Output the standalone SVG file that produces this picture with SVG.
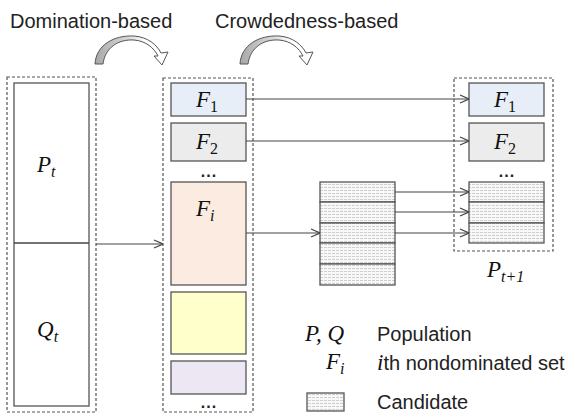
<svg xmlns="http://www.w3.org/2000/svg" width="571" height="413" viewBox="0 0 571 413">
<style>
.lbl{font-family:"Liberation Sans",Arial,sans-serif;font-size:20px;fill:#222}
.m{font-family:"Liberation Serif","Times New Roman",serif;font-style:italic;font-size:23px;fill:#111}
.sub{font-size:16px}
.up{font-style:normal}
.dash{fill:none;stroke:#555;stroke-width:1.2;stroke-dasharray:3 2}
.box{stroke:#555;stroke-width:1.3}
.hat{fill:url(#hatch);stroke:#555;stroke-width:1.3}
.con{fill:none;stroke:#444;stroke-width:1.2;marker-end:url(#arr)}
.dots{font-family:"Liberation Sans",Arial,sans-serif;font-size:16px;font-weight:bold;fill:#222;text-anchor:middle;letter-spacing:1px}
.barrow{fill:url(#bg);stroke:#555;stroke-width:1}
</style>
<defs>
<pattern id="hatch" width="4" height="3" patternUnits="userSpaceOnUse">
<rect width="4" height="3" fill="#f8f8f8"/>
<rect x="0" y="1" width="3" height="1" fill="#cfcfcf"/>
</pattern>
<marker id="arr" viewBox="0 0 10 10" refX="10" refY="5" markerWidth="10" markerHeight="10" markerUnits="userSpaceOnUse" orient="auto">
<path d="M1,1 L10,5 L1,9" fill="none" stroke="#444" stroke-width="1.2"/>
</marker>
<linearGradient id="bg" x1="0" y1="0" x2="1" y2="0">
<stop offset="0" stop-color="#a8a8a8"/>
<stop offset="0.45" stop-color="#d8d8d8"/>
<stop offset="0.7" stop-color="#ffffff"/>
<stop offset="1" stop-color="#ffffff"/>
</linearGradient>
<path id="curve" d="M95,64 C96,45 114,35 134,36 C148,37 157,45 161,53 L168,52 L162,65 L154,56 L158,56 C154,48 146,41 134,40 C118,39 105,48 103,64 Z"/>
</defs>

<text class="lbl" x="10" y="28">Domination-based</text>
<text class="lbl" x="215" y="28">Crowdedness-based</text>
<use href="#curve" class="barrow"/>
<use href="#curve" class="barrow" transform="translate(145,0)"/>

<g id="population">
<rect class="dash" x="7" y="77" width="89" height="335"/>
<rect class="box" x="14" y="83" width="75" height="323" fill="#fff"/>
<line x1="14" y1="243" x2="89" y2="243" stroke="#444" stroke-width="1.5"/>
<text class="m" x="37" y="172">P<tspan class="sub" dy="5">t</tspan></text>
<text class="m" x="37" y="337">Q<tspan class="sub" dy="5">t</tspan></text>
</g>

<g id="fronts">
<rect class="dash" x="163" y="78" width="90" height="334"/>
<rect class="box" x="171" y="83" width="75" height="33" fill="#e7eef8"/>
<text class="m" x="196" y="107">F<tspan class="sub up" dy="5">1</tspan></text>
<rect class="box" x="171" y="123" width="75" height="38" fill="#ececec"/>
<text class="m" x="196" y="149">F<tspan class="sub up" dy="5">2</tspan></text>
<text class="dots" x="209" y="177">...</text>
<rect class="box" x="171" y="182" width="75" height="103" fill="#fbebe0"/>
<text class="m" x="196" y="216">F<tspan class="sub" dy="5">i</tspan></text>
<rect class="box" x="171" y="292" width="75" height="62" fill="#ffffcc"/>
<rect class="box" x="171" y="361" width="75" height="33" fill="#ece7f3"/>
<text class="dots" x="209" y="408">...</text>
</g>

<g id="candidates">
<rect class="hat" x="320" y="182" width="75" height="20"/>
<rect class="hat" x="320" y="202" width="75" height="21"/>
<rect class="hat" x="320" y="223" width="75" height="20"/>
<rect class="hat" x="320" y="243" width="75" height="21"/>
<rect class="hat" x="320" y="264" width="75" height="21"/>
</g>

<g id="next-population">
<rect class="dash" x="454" y="78" width="99" height="173"/>
<rect class="box" x="469" y="83" width="75" height="33" fill="#e7eef8"/>
<text class="m" x="494" y="107">F<tspan class="sub up" dy="5">1</tspan></text>
<rect class="box" x="469" y="123" width="75" height="38" fill="#ececec"/>
<text class="m" x="494" y="149">F<tspan class="sub up" dy="5">2</tspan></text>
<text class="dots" x="507" y="177">...</text>
<rect class="hat" x="469" y="182" width="75" height="20"/>
<rect class="hat" x="469" y="202" width="75" height="21"/>
<rect class="hat" x="469" y="223" width="75" height="20"/>
<text class="m" x="487" y="277">P<tspan class="sub" dy="5">t+1</tspan></text>
</g>

<g id="connectors">
<line class="con" x1="96" y1="244" x2="163" y2="244"/>
<line class="con" x1="246" y1="99" x2="469" y2="99"/>
<line class="con" x1="246" y1="141" x2="469" y2="141"/>
<line class="con" x1="246" y1="233" x2="320" y2="233"/>
<line class="con" x1="395" y1="192" x2="469" y2="192"/>
<line class="con" x1="395" y1="212" x2="469" y2="212"/>
<line class="con" x1="395" y1="233" x2="469" y2="233"/>
</g>

<g id="legend">
<text class="m" x="305" y="341">P, Q</text>
<text class="lbl" x="377" y="341">Population</text>
<text class="m" x="326" y="369">F<tspan class="sub" dy="5">i</tspan></text>
<text class="lbl" x="377" y="370"><tspan class="m">i</tspan>th nondominated set</text>
<rect class="hat" x="307" y="393" width="37" height="18"/>
<text class="lbl" x="377" y="409">Candidate</text>
</g>
</svg>
